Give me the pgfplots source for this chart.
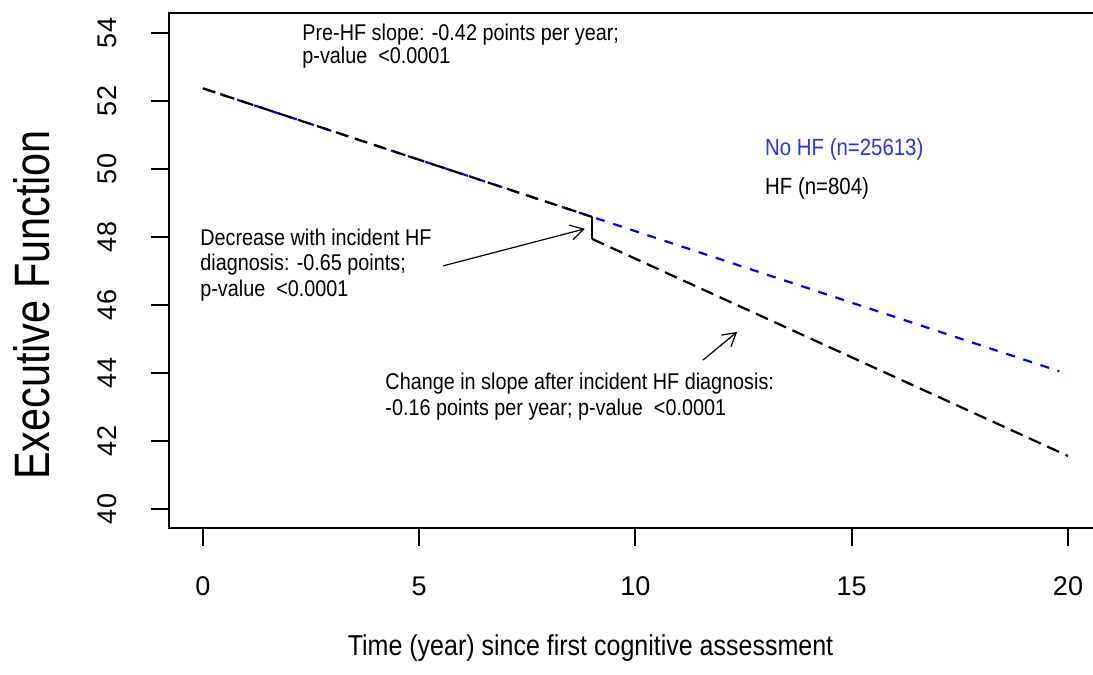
\documentclass[border=0pt]{standalone}
\usepackage{graphicx}
\usepackage{pgfplots}
\pgfplotsset{compat=1.18}
\usepackage{fontspec}
\setmainfont{Liberation Sans}
\usetikzlibrary{arrows.meta}
\definecolor{lblue}{RGB}{35,55,235}
\newcommand{\anfont}{\fontsize{9.9}{12}\selectfont}
\newcommand{\vs}[1]{\scalebox{1}[1.15]{#1}}
\begin{document}
\begin{tikzpicture}
\useasboundingbox (-84.5pt,-73.5pt) rectangle (462pt,264pt);
\begin{axis}[
 at={(0pt,0pt)}, anchor=south west,
 scale only axis, width=462pt, height=257.5pt,
 xmin=-0.786, xmax=20.578, ymin=39.441, ymax=54.588,
 xtick={0,5,10,15,20}, ytick={40,42,44,46,48,50,52,54},
 xtick pos=bottom, ytick pos=left,
 tick align=outside, major tick length=9pt,
 every tick/.style={black, line width=1pt},
 axis line style={draw=none},
 clip=false,
 /pgf/number format/assume math mode=true,
 ticklabel style={font=\fontsize{13.5}{16}\selectfont, inner sep=0pt},
 xticklabel style={anchor=base, yshift=-24.5pt},
 yticklabel style={rotate=90, anchor=base, yshift=17pt},
]
\draw[line width=1pt] (rel axis cs:1.02,1) -- (rel axis cs:0,1) -- (rel axis cs:0,0) -- (rel axis cs:1.02,0);
% No HF
\addplot[blue, line width=1.1pt, dash pattern=on 4.5pt off 4.5pt] coordinates {(0,52.37) (9,48.59) (19.8,44.05)};
% HF
\addplot[black, line width=1.1pt, dash pattern=on 6.5pt off 3.5pt] coordinates {(0,52.37) (9,48.59)};
\addplot[black, line width=1.1pt] coordinates {(9,48.59) (9,47.94)};
\addplot[black, line width=1.1pt, dash pattern=on 6.5pt off 3.5pt] coordinates {(9,47.94) (20,41.56)};
% annotations
\node[anchor=base west, font=\anfont, inner sep=0pt] at (axis cs:2.29,53.79) {\vs{Pre-HF slope: -0.42 points per year;}};
\node[anchor=base west, font=\anfont, inner sep=0pt] at (axis cs:2.29,53.09) {\vs{p-value\ \ <0.0001}};
\node[anchor=base west, font=\fontsize{10.2}{12}\selectfont, inner sep=0pt, text=lblue] at (axis cs:12.99,50.41) {\vs{No HF (n=25613)}};
\node[anchor=base west, font=\fontsize{10.2}{12}\selectfont, inner sep=0pt] at (axis cs:12.99,49.24) {\vs{HF (n=804)}};
\node[anchor=base west, font=\anfont, inner sep=0pt] at (axis cs:-0.07,47.74) {\vs{Decrease with incident HF}};
\node[anchor=base west, font=\anfont, inner sep=0pt] at (axis cs:-0.07,47.00) {\vs{diagnosis: -0.65 points;}};
\node[anchor=base west, font=\anfont, inner sep=0pt] at (axis cs:-0.07,46.26) {\vs{p-value\ \ <0.0001}};
\node[anchor=base west, font=\anfont, inner sep=0pt] at (axis cs:4.21,43.50) {\vs{Change in slope after incident HF diagnosis:}};
\node[anchor=base west, font=\anfont, inner sep=0pt] at (axis cs:4.21,42.76) {\vs{-0.16 points per year; p-value\ \ <0.0001}};
\draw[line width=0.6pt, -{Straight Barb[length=6.5pt,width=7.5pt]}] (axis cs:5.55,47.15) -- (axis cs:8.83,48.24);
\draw[line width=0.6pt, -{Straight Barb[length=6.5pt,width=7.5pt]}] (axis cs:11.56,44.38) -- (axis cs:12.35,45.21);
\end{axis}
\node[anchor=base, font=\fontsize{12.5}{15}\selectfont, inner sep=0pt] at (210.75pt,-63.5pt) {\vs{Time (year) since first cognitive assessment}};
\node[anchor=base, rotate=90, font=\fontsize{20.7}{24}\selectfont, inner sep=0pt] at (-59.5pt,111.5pt) {\scalebox{1}[1.2]{Executive Function}};
\end{tikzpicture}
\end{document}
